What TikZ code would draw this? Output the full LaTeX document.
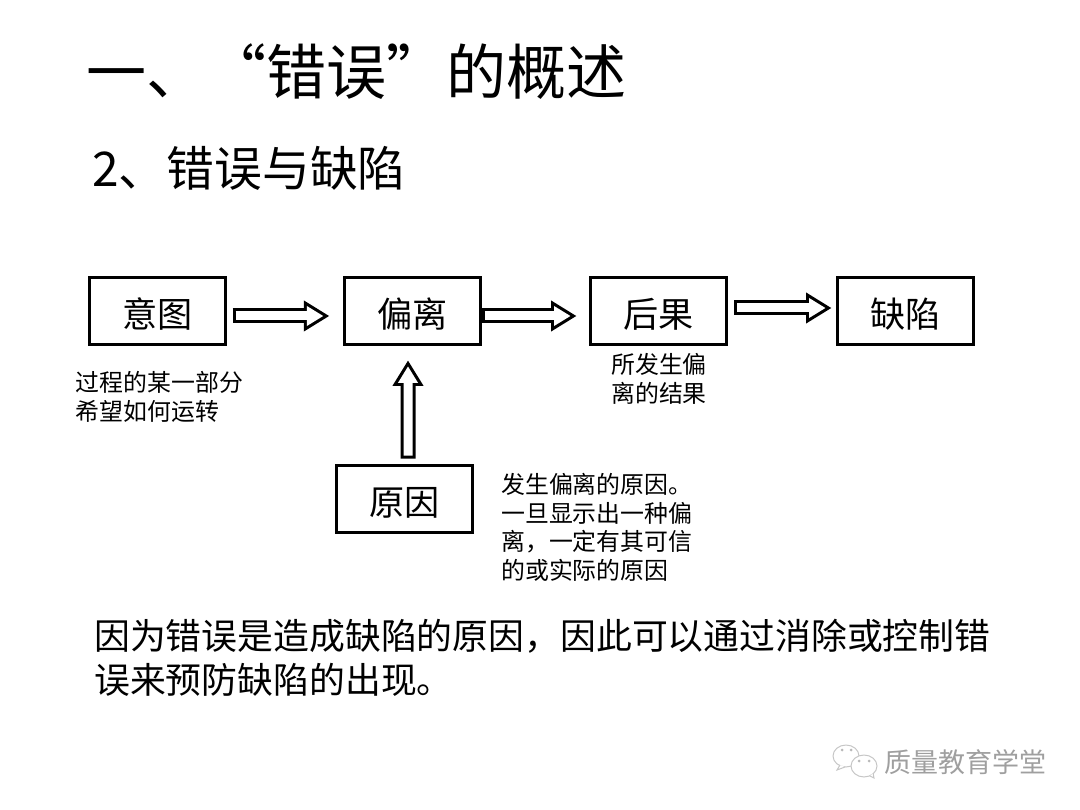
\documentclass[tikz,border=0pt]{standalone}
\usepackage{fontspec}
\setmainfont{Noto Sans CJK SC}
\usetikzlibrary{arrows.meta}
\newcommand{\fsz}[2]{\fontsize{#1}{#2}\selectfont}
\tikzset{
  flowbox/.style={rectangle, draw, line width=2.1pt, minimum width=34mm, minimum height=16.9mm, inner sep=0pt, text depth=0pt, text height=24pt, font=\fsz{25}{30}},
  blockarrow/.style 2 args={line width=3.75mm, shorten <=#1, shorten >=#2, -{Triangle[length=6.4mm,width=7.3mm]},
    postaction={draw, white, line width=2.25mm, shorten <=#1+.75mm, shorten >=#2+1.5mm, -{Triangle[length=4.15mm,width=4.7mm]}}},
  note/.style={anchor=north west, align=left, inner sep=0pt, font=\fsz{17}{20.4}},
  heading/.style={anchor=west, inner sep=0pt},
  logoline/.style={draw=gray!45, line width=.7pt, fill=white}
}
\begin{document}
\begin{tikzpicture}[x=.25mm,y=-.25mm]
\useasboundingbox (0,0) rectangle (1080,810);
\path (86,72) node[heading,font=\fsz{42.7}{50}](title) {一、“错误”的概述}
(92,168) node[heading,font=\fsz{34}{40}](subtitle) {2、错误与缺陷}
(157.5,311) node[flowbox](yitu) {意图}
(412.5,311) node[flowbox](pianli) {偏离}
(658.5,311) node[flowbox](houguo) {后果}
(905.5,311) node[flowbox](quexian) {缺陷}
(404.5,499) node[flowbox](yuanyin) {原因}
(75.5,371) node[note](yitutext) {过程的某一部分\\希望如何运转}
(611,353) node[note](houguotext) {所发生偏\\离的结果}
(501,473) node[note](yuanyintext) {发生偏离的原因。\\一旦显示出一种偏\\离，一定有其可信\\的或实际的原因}
(94,619) node[anchor=north west,align=left,inner sep=0pt,font=\fsz{25.5}{31.3}](summary) {因为错误是造成缺陷的原因，因此可以通过消除或控制错\\误来预防缺陷的出现。}
(884,762) node[heading,text=gray!75,font=\fsz{19.2}{23}](watermark) {质量教育学堂};
% block arrows
\draw[blockarrow={1.4mm}{3.4mm}] ([yshift=-1.25mm]yitu.east) -- ([yshift=-1.25mm]pianli.west);
\draw[blockarrow={0mm}{3.1mm}] ([yshift=-1.25mm]pianli.east) -- ([yshift=-1.25mm]houguo.west);
\draw[blockarrow={1.6mm}{1.1mm}] ([yshift=.75mm]houguo.east) -- ([yshift=.75mm]quexian.west);
\draw[blockarrow={1.25mm}{3.5mm}] ([xshift=.875mm]yuanyin.north) -- ([xshift=-1.125mm]pianli.south);
% wechat icon
\draw[logoline] (846,756) ellipse (13 and 11);
\draw[logoline] (864,766) ellipse (13 and 11);
\draw[logoline] (840,765) -- (837,770) -- (845,767);
\draw[logoline] (870,776) -- (874,778) -- (873,773);
\fill[gray!55] (842,750) circle (1.5) (851,750) circle (1.5) (859,761) circle (1.5) (869,761) circle (1.5);
\end{tikzpicture}
\end{document}
